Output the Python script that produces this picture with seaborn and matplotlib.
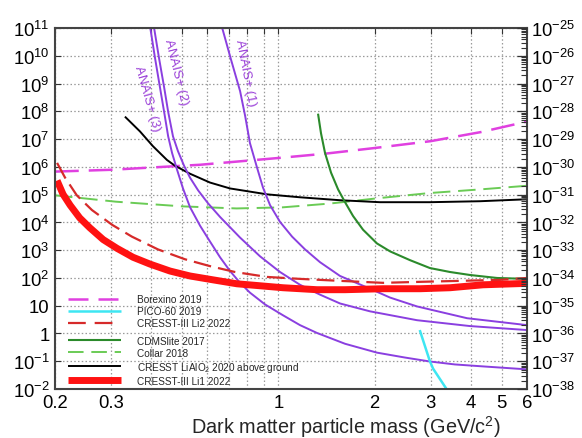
import math
import matplotlib
matplotlib.use("Agg")
import matplotlib.pyplot as plt
from matplotlib.lines import Line2D
from matplotlib.ticker import FixedLocator, FuncFormatter, LogLocator, NullFormatter, NullLocator
import seaborn as sns

# ---- exclusion limits (x: mass in GeV/c^2, y: left-axis scale) ----
borexino_x = [0.2, 0.3, 0.57, 1.0, 1.4, 2.0, 3.0, 4.3, 6.0]
borexino_y = [6.8e5, 7.9e5, 1.2e6, 2.1e6, 3.0e6, 4.8e6, 8.5e6, 1.8e7, 4.3e7]

pico_x = [2.77, 2.98, 3.05, 3.38]
pico_y = [1.33, 0.10, 0.054, 0.009]

li2_x = [0.203, 0.215, 0.234, 0.261, 0.302, 0.348, 0.42, 0.51, 0.611, 0.732, 0.922, 1.169,
         1.56, 2.126, 2.78, 3.70, 4.94, 6.0]
li2_y = [1.4e6, 4.13e5, 9.5e4, 2.8e4, 8.2e3, 3.09e3, 1.07e3, 473, 267, 164, 109, 92.7,
         78.7, 66.8, 72.6, 78.7, 85.5, 100]

cdms_x = [1.331, 1.36, 1.40, 1.462, 1.538, 1.617, 1.713, 1.841, 2.036, 2.236, 2.584, 2.98,
          3.447, 3.98, 4.835, 6.0]
cdms_y = [8.3e7, 1.62e7, 3.17e6, 6.2e5, 1.55e5, 5.37e4, 1.71e4, 5.47e3, 1.75e3, 910, 437, 228,
          164, 128, 100, 92.7]

collar_x = [0.2, 0.31, 0.5, 0.74, 1.03, 1.45, 2.08, 2.98, 4.28, 6.0]
collar_y = [9.5e4, 5.6e4, 3.8e4, 3.2e4, 3.5e4, 4.8e4, 7.6e4, 1.15e5, 1.55e5, 2.1e5]

lialo_x = [0.331, 0.369, 0.405, 0.448, 0.475, 0.529, 0.611, 0.706, 0.922, 1.169, 1.56, 2.08,
           2.98, 4.28, 6.0]
lialo_y = [6.5e7, 1.9e7, 5.6e6, 1.79e6, 1.1e6, 5.7e5, 2.74e5, 1.68e5, 1.03e5, 8.07e4, 6.32e4,
           5.37e4, 5.37e4, 5.82e4, 6.85e4]

li1_x = [0.203, 0.212, 0.223, 0.239, 0.257, 0.283, 0.313, 0.351, 0.397, 0.458, 0.529, 0.625,
         0.742, 0.876, 1.034, 1.321, 1.617, 2.126, 2.78, 3.447, 4.37, 6.0]
li1_y = [3.23e5, 1.03e5, 4.2e4, 1.46e4, 6.44e3, 2.42e3, 1.16e3, 557, 315, 178, 118, 85.5,
         61.7, 52.4, 44.5, 37.8, 37.8, 41.0, 41.0, 44.5, 56.8, 64.0]

anais1_x = [0.666, 0.711, 0.759, 0.787, 0.815, 0.858, 0.895, 0.942, 1.012, 1.104, 1.212, 1.35,
            1.56, 1.936, 2.236, 2.716, 3.896, 6.0]
anais1_y = [1.1e11, 7.35e9, 5.4e8, 7.0e7, 7.2e6, 9.3e5, 1.82e5, 4.2e4, 1.05e4, 3.09e3, 1.07e3,
            371, 118, 41, 19.7, 9.44, 3.55, 2.0]

anais2_x = [0.408, 0.423, 0.439, 0.452, 0.468, 0.485, 0.507, 0.529, 0.561, 0.602, 0.657, 0.759,
            0.876, 1.012, 1.169, 1.35, 1.56, 1.936, 2.716, 3.98, 6.0]
anais2_y = [1.1e11, 8.65e9, 7.5e8, 9.75e7, 1.27e7, 3.73e6, 1.1e6, 4.13e5, 1.43e5, 4.95e4, 1.58e4,
            2.85e3, 605, 164, 56.8, 25.1, 12.05, 6.28, 3.01, 1.85, 1.33]

anais3_x = [0.397, 0.411, 0.426, 0.439, 0.452, 0.465, 0.482, 0.503, 0.529, 0.569, 0.611, 0.657,
            0.706, 0.759, 0.815, 0.909, 1.034, 1.169, 1.321, 1.617, 2.036, 2.49, 2.98, 3.57,
            4.37, 6.0]
anais3_y = [1.1e11, 8.65e9, 7.5e8, 9.75e7, 1.27e7, 3.17e6, 7.9e5, 1.68e5, 3.57e4, 7.6e3, 2.06e3,
            557, 178, 66.8, 29.6, 11.1, 4.53, 2.0, 1.045, 0.426, 0.204, 0.136, 0.098, 0.0767,
            0.0652, 0.051]

anais_labels = ["ANAIS+ (1)", "ANAIS+ (2)", "ANAIS+ (3)"]
anais_label_x = [0.79, 0.477, 0.388]
anais_label_y = [2.6e9, 2.8e9, 3.0e8]
anais_label_rot = [-79, -76, -74]

x_ticks = [0.2, 0.3, 0.4, 0.5, 0.6, 0.7, 0.8, 0.9, 1, 2, 3, 4, 5, 6]
x_tick_labels = ["0.2", "0.3", "", "", "", "", "", "", "1", "2", "3", "4", "5", "6"]

sns.set_style("white")
plt.rcParams["font.family"] = ["Liberation Sans", "DejaVu Sans"]
plt.rcParams["mathtext.default"] = "regular"

fig = plt.figure(figsize=(5.82, 4.39), dpi=100)
ax = fig.add_axes([0.0945, 0.1116, 0.811, 0.822])

MAGENTA = "#e040e0"
CYAN = "#3ee6f2"
RED_D = "#d62a2a"
GREEN_D = "#2b8a2b"
GREEN_L = "#6acb55"
RED = "#ff1212"
PURPLE = "#8a3fe0"


def draw(xs, ys, color, lw, ls="-"):
    sns.lineplot(x=xs, y=ys, ax=ax, color=color, lw=lw, linestyle=ls,
                 estimator=None, sort=False, solid_capstyle="butt", dash_capstyle="butt",
                 solid_joinstyle="round")


draw(borexino_x, borexino_y, MAGENTA, 1.8, (0, (9.5, 4)))
draw(collar_x, collar_y, GREEN_L, 1.4, (0, (9, 4)))
draw(lialo_x, lialo_y, "black", 1.4)
draw(cdms_x, cdms_y, GREEN_D, 1.5)
draw(anais1_x, anais1_y, PURPLE, 1.4)
draw(anais2_x, anais2_y, PURPLE, 1.4)
draw(anais3_x, anais3_y, PURPLE, 1.4)
draw(li2_x, li2_y, RED_D, 1.6, (0, (8, 3.2)))
draw(li1_x, li1_y, RED, 5.0)
draw(pico_x, pico_y, CYAN, 1.8)

for t, lx, ly, r in zip(anais_labels, anais_label_x, anais_label_y, anais_label_rot):
    ax.text(lx, ly, t, rotation=r, rotation_mode="anchor", ha="center", va="center",
            color="#9a3fd8", fontsize=9.5)

ax.set_xscale("log")
ax.set_yscale("log")
ax.set_xlim(0.2, 6)
ax.set_ylim(1e-2, 1e11)

ax.xaxis.set_major_locator(FixedLocator(x_ticks))
ax.xaxis.set_minor_locator(NullLocator())
ax.set_xticklabels(x_tick_labels)
ax.yaxis.set_major_locator(LogLocator(base=10, numticks=30))
ax.yaxis.set_minor_locator(NullLocator())


def left_fmt(v, pos):
    e = int(round(math.log10(v)))
    if e == 1:
        return "10"
    if e == 0:
        return "1"
    return r"$10^{%d}$" % e


ax.yaxis.set_major_formatter(FuncFormatter(left_fmt))
ax.tick_params(axis="both", which="major", direction="in", length=4, width=0.8,
               labelsize=13.3, top=True, pad=4, colors="#333333", labelcolor="black")
ax.tick_params(axis="x", pad=3.5)
ax.tick_params(axis="y", right=False)

ax.grid(True, which="major", color="#9a9a9a", linestyle=(0, (1.2, 1.8)), lw=0.9)

for s in ax.spines.values():
    s.set_color("#444444")
    s.set_linewidth(1.5)

ax.set_xlabel("Dark matter particle mass (GeV/c$^2$)", fontsize=14.3, va="center")
ax.xaxis.set_label_coords(0.617, -0.102)

# right-hand cross-section scale
ax2 = ax.twinx()
ax2.set_yscale("log")
ax2.set_ylim(1e-38, 1e-25)
ax2.yaxis.set_major_locator(LogLocator(base=10, numticks=30))
ax2.yaxis.set_minor_locator(LogLocator(base=10, subs=range(2, 10), numticks=30))
ax2.yaxis.set_minor_formatter(NullFormatter())
ax2.yaxis.set_major_formatter(FuncFormatter(lambda v, p: r"$10^{%d}$" % round(math.log10(v))))
ax2.tick_params(axis="y", which="major", direction="in", length=7, width=0.9,
                labelsize=13.3, pad=3, colors="#333333", labelcolor="black")
ax2.tick_params(axis="y", which="minor", direction="in", length=4.5, width=0.8, colors="#333333")
for s in ax2.spines.values():
    s.set_visible(False)


# legend, in two blocks
def h(color, lw, ls="-"):
    return Line2D([], [], color=color, lw=lw, linestyle=ls, solid_capstyle="butt",
                  dash_capstyle="butt")


leg_kw = dict(frameon=False, fontsize=7.2, handlelength=5.3, handletextpad=1.65,
              labelspacing=0.2, borderpad=0, borderaxespad=0, loc="upper left")
leg1 = ax.legend([h(MAGENTA, 1.8, (0, (8, 4))), h(CYAN, 1.8), h(RED_D, 1.6, (0, (8, 4)))],
                 ["Borexino 2019", "PICO-60 2019", "CRESST-III Li2 2022"],
                 bbox_to_anchor=(0.027, 0.262), **leg_kw)
ax.add_artist(leg1)
ax.legend([h(GREEN_D, 1.5), h(GREEN_L, 1.4, (0, (8, 4))), h("black", 1.4), h(RED, 5.0)],
          ["CDMSlite 2017", "Collar 2018", "CRESST LiAlO$_2$ 2020 above ground",
           "CRESST-III Li1 2022"],
          bbox_to_anchor=(0.027, 0.147), **leg_kw)

fig.savefig("out.png", dpi=100)
